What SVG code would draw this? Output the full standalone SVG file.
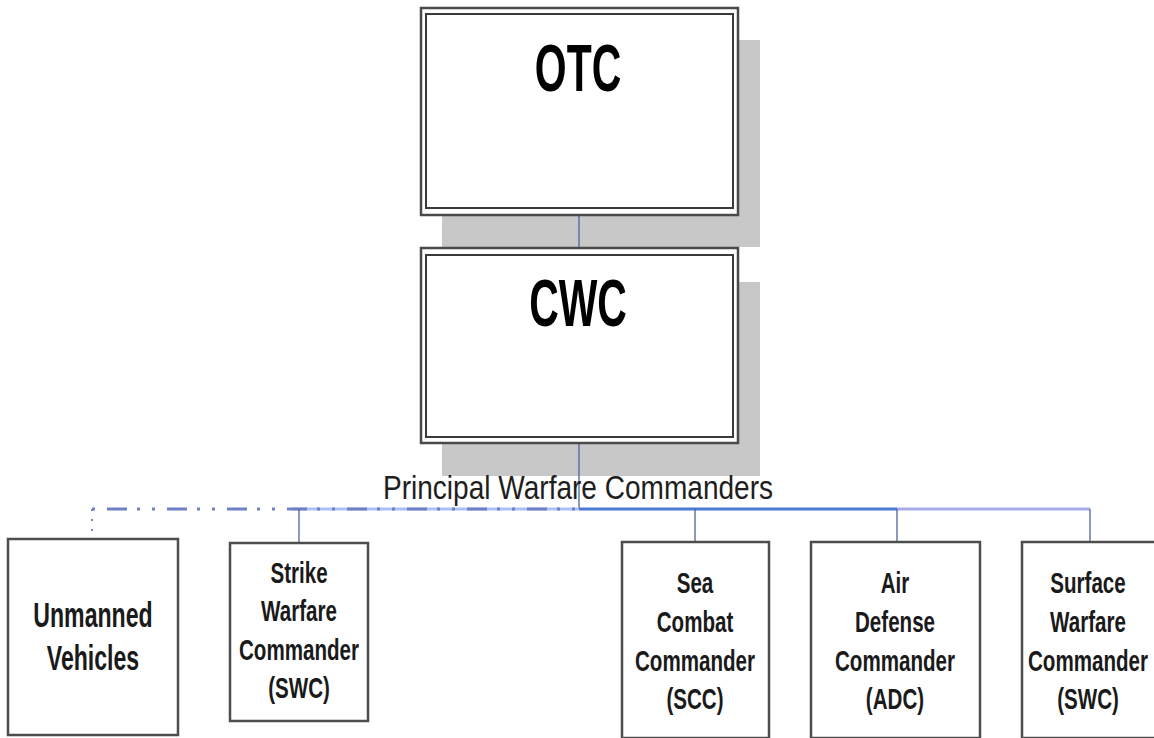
<svg xmlns="http://www.w3.org/2000/svg" width="1154" height="738" viewBox="0 0 1154 738">
  <style>
    .shadow { fill: #c8c8c8; stroke: none; }
    .outer { fill: #ffffff; stroke: #4a4a4a; stroke-width: 2.5; }
    .inner { fill: #ffffff; stroke: #3a3a3a; stroke-width: 2; }
    .box { fill: #ffffff; stroke: #4d4d4d; stroke-width: 2.5; }
    .big { font-family: "Liberation Sans", Arial, sans-serif; font-weight: bold; font-size: 66px; fill: #000; text-anchor: middle; }
    .lbl { font-family: "Liberation Sans", Arial, sans-serif; font-weight: bold; font-size: 29px; fill: #1a1a1a; text-anchor: middle; }
    .lbl2 { font-family: "Liberation Sans", Arial, sans-serif; font-weight: bold; font-size: 35px; fill: #1a1a1a; text-anchor: middle; }
    .cap { font-family: "Liberation Sans", Arial, sans-serif; font-size: 33px; fill: #1e1e1e; text-anchor: middle; }
    .conn { stroke: #4e6499; stroke-width: 1.3; fill: none; }
  </style>

  <!-- shadows -->
  <rect class="shadow" x="442" y="40" width="318" height="207"/>
  <rect class="shadow" x="442" y="282" width="318" height="194"/>

  <g id="connectors">
    <line class="conn" x1="579" y1="215" x2="579" y2="248"/>
    <line class="conn" x1="579" y1="443" x2="579" y2="509"/>
    <!-- bus -->
    <line x1="292" y1="509" x2="579" y2="509" stroke="#a9c1f2" stroke-width="3"/>
    <line x1="92" y1="509" x2="579" y2="509" stroke="#6f80c4" stroke-width="3" stroke-dasharray="3 12 20 10 3 12"/>
    <line x1="579" y1="509" x2="897" y2="509" stroke="#4b7bd3" stroke-width="3"/>
    <line x1="897" y1="509" x2="1090" y2="509" stroke="#a9abe9" stroke-width="3"/>
    <!-- drops -->
    <line x1="92" y1="509" x2="92" y2="539" stroke="#7a84c4" stroke-width="2" stroke-dasharray="2 8"/>
    <line class="conn" x1="299" y1="509" x2="299" y2="543"/>
    <line class="conn" x1="695" y1="509" x2="695" y2="542"/>
    <line class="conn" x1="897" y1="509" x2="897" y2="542"/>
    <line class="conn" x1="1090" y1="509" x2="1090" y2="542"/>
  </g>

  <g id="otc">
    <rect class="outer" x="421" y="8" width="317" height="207"/>
    <rect class="inner" x="426" y="14" width="307" height="194"/>
    <text class="big" transform="translate(578,91) scale(0.62,1)" x="0" y="0">OTC</text>
  </g>

  <g id="cwc">
    <rect class="outer" x="421" y="248" width="317" height="195"/>
    <rect class="inner" x="426" y="255" width="307" height="182"/>
    <text class="big" transform="translate(578,326) scale(0.62,1)" x="0" y="0">CWC</text>
  </g>

  <g id="pwc-label">
    <text class="cap" transform="translate(578,499) scale(0.85,1)" x="0" y="0">Principal Warfare Commanders</text>
  </g>

  <g id="unmanned">
    <rect class="box" x="8" y="539" width="170" height="196"/>
    <g transform="translate(93,0) scale(0.66,1)">
      <text class="lbl2" x="0" y="627">Unmanned</text>
      <text class="lbl2" x="0" y="670">Vehicles</text>
    </g>
  </g>

  <g id="strike">
    <rect class="box" x="230" y="543" width="138" height="178"/>
    <g transform="translate(299,0) scale(0.71,1)">
      <text class="lbl" x="0" y="583">Strike</text>
      <text class="lbl" x="0" y="621">Warfare</text>
      <text class="lbl" x="0" y="660">Commander</text>
      <text class="lbl" x="0" y="698">(SWC)</text>
    </g>
  </g>

  <g id="scc">
    <rect class="box" x="622" y="542" width="147" height="196"/>
    <g transform="translate(695,0) scale(0.71,1)">
      <text class="lbl" x="0" y="593">Sea</text>
      <text class="lbl" x="0" y="632">Combat</text>
      <text class="lbl" x="0" y="671">Commander</text>
      <text class="lbl" x="0" y="709">(SCC)</text>
    </g>
  </g>

  <g id="adc">
    <rect class="box" x="811" y="542" width="169" height="196"/>
    <g transform="translate(895,0) scale(0.71,1)">
      <text class="lbl" x="0" y="593">Air</text>
      <text class="lbl" x="0" y="632">Defense</text>
      <text class="lbl" x="0" y="671">Commander</text>
      <text class="lbl" x="0" y="709">(ADC)</text>
    </g>
  </g>

  <g id="suwc">
    <rect class="box" x="1022" y="542" width="140" height="196"/>
    <g transform="translate(1088,0) scale(0.71,1)">
      <text class="lbl" x="0" y="593">Surface</text>
      <text class="lbl" x="0" y="632">Warfare</text>
      <text class="lbl" x="0" y="671">Commander</text>
      <text class="lbl" x="0" y="709">(SWC)</text>
    </g>
  </g>
</svg>
